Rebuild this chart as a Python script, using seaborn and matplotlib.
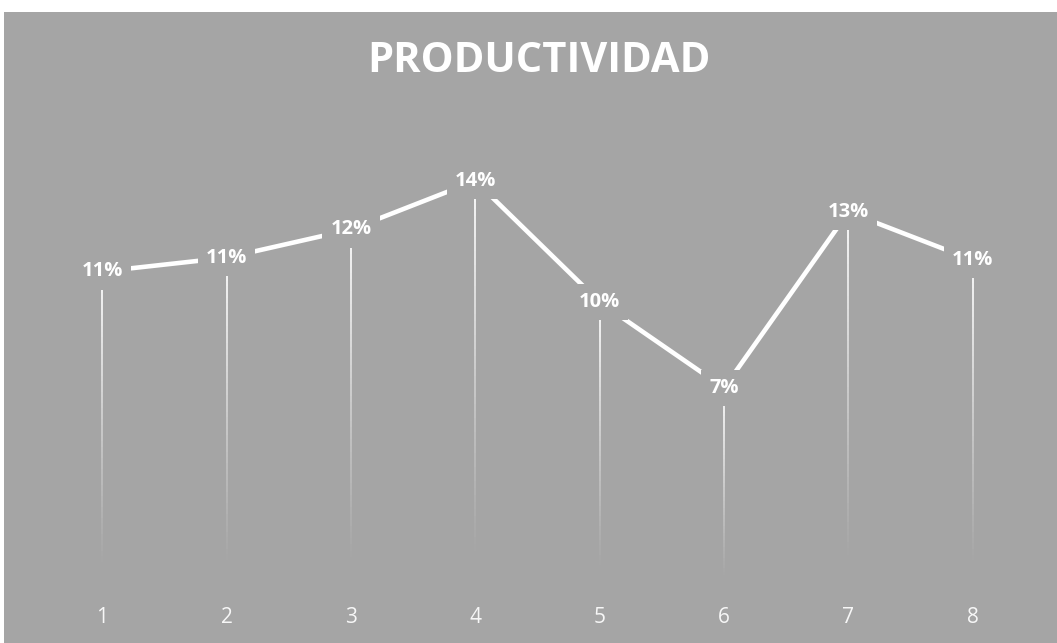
import numpy as np
import matplotlib
matplotlib.use("Agg")
import matplotlib.pyplot as plt
from matplotlib.patches import Rectangle
from matplotlib.collections import LineCollection
import seaborn as sns

categories = ["1", "2", "3", "4", "5", "6", "7", "8"]
values = [0.1095, 0.1141, 0.1235, 0.1397, 0.0993, 0.0707, 0.1293, 0.1133]
title = "PRODUCTIVIDAD"

BG = "#a5a5a5"
sns.set_theme(style="white")
plt.rcParams['font.family'] = ['Open Sans', 'DejaVu Sans']

fig = plt.figure(figsize=(10.57, 6.43), dpi=100, facecolor=BG)
# white margins at top and left
fig.patches.append(Rectangle((0, 1 - 12 / 643), 1, 12 / 643,
                             transform=fig.transFigure, facecolor="white",
                             edgecolor="none", zorder=0))
fig.patches.append(Rectangle((0, 0), 4 / 1057, 1,
                             transform=fig.transFigure, facecolor="white",
                             edgecolor="none", zorder=0))
ax = fig.add_axes([40 / 1057, 43 / 643, (1035 - 40) / 1057, (600 - 120) / 643])
ax.set_facecolor("none")
ax.set_zorder(2)

x = np.arange(len(categories))
sns.lineplot(x=x, y=values, ax=ax, color="white", linewidth=3.3,
             solid_capstyle="butt", zorder=3)

# fading drop lines
n = 60
for xi, v in zip(x, values):
    ys = np.linspace(v, 0, n + 1)
    segs = [[(xi, ys[i]), (xi, ys[i + 1])] for i in range(n)]
    alphas = np.clip(1 - np.linspace(0.0, 1.1, n), 0, 1) ** 1.1
    cols = [(1, 1, 1, a) for a in alphas]
    ax.add_collection(LineCollection(segs, colors=cols, linewidths=1.3, zorder=2))

for xi, v in zip(x, values):
    ax.text(xi, v, f"{v*100:.0f}%", ha="center", va="center", color="white",
            fontsize=14.5, fontweight="bold", zorder=5,
            bbox=dict(boxstyle="square,pad=0.4", facecolor=BG, edgecolor="none"))

ax.set_xlim(-0.5, len(categories) - 0.5)
ax.set_ylim(0, 0.16)
ax.set_xticks(x)
ax.set_xticklabels(categories, color="#f7f7f7", fontsize=15)
ax.tick_params(axis="x", length=0, pad=5)
ax.set_yticks([])
ax.set_xlabel("")
ax.set_ylabel("")
for s in ax.spines.values():
    s.set_visible(False)

fig.text(539 / 1057, 1 - 62 / 643, title, ha="center", va="center",
         color="white", fontsize=30, fontweight="bold")

fig.savefig("out.png", dpi=100, facecolor=BG)
